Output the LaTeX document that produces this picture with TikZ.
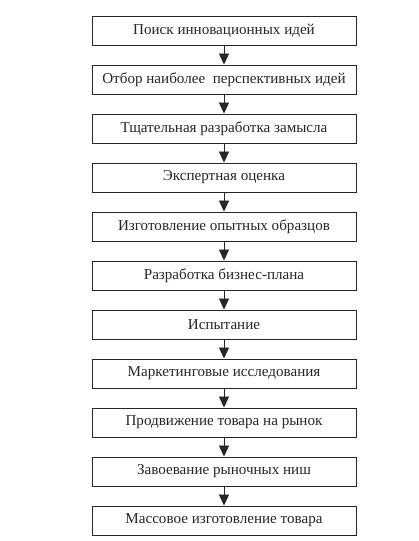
\documentclass[tikz,border=0pt]{standalone}
\usepackage{fontspec}
\setmainfont{Liberation Serif}
\usetikzlibrary{arrows.meta}
\begin{document}
\begin{tikzpicture}[x=1pt,y=1pt,
  stepbox/.style={draw=black!85, line width=0.9pt, minimum width=264pt, minimum height=29pt, inner sep=0pt, font=\fontsize{15.1}{17}\selectfont, text=black!85},
  flow/.style={draw=black!85, line width=0.9pt, -{Triangle[length=11pt,width=10pt]}}]
\useasboundingbox (0,0) rectangle (418,541);
\foreach \t [count=\i from 0] in {Поиск инновационных идей,
  Отбор наиболее\ \ перспективных идей,
  Тщательная разработка замысла,
  Экспертная оценка,
  Изготовление опытных образцов,
  Разработка бизнес-плана,
  Испытание,
  Маркетинговые исследования,
  Продвижение товара на рынок,
  Завоевание рыночных ниш,
  Массовое изготовление товара}{
  \node[stepbox] (b\i) at (224, {541-30.5-49*\i}) {\t};
}
\foreach \i [evaluate=\i as \j using int(\i+1)] in {0,...,9}{
  \draw[flow] (b\i.south) -- (b\j.north);
}
\end{tikzpicture}
\end{document}
